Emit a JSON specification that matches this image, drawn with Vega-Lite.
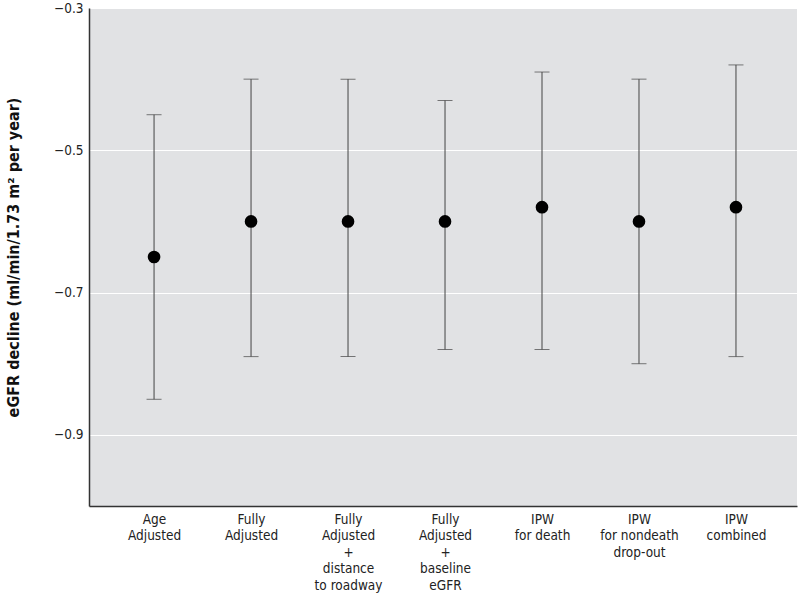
{
  "$schema": "https://vega.github.io/schema/vega-lite/v6.json",
  "width": 708,
  "height": 498,
  "autosize": {"type": "none"},
  "padding": {"left": 89, "top": 8, "right": 3, "bottom": 87},
  "background": "white",
  "config": {
    "view": {"fill": "#e1e2e4", "stroke": null},
    "font": "Liberation Sans Narrow, DejaVu Sans Condensed, sans-serif",
    "axis": {
      "labelFont": "Liberation Sans Narrow, DejaVu Sans Condensed, sans-serif",
      "titleFont": "Liberation Sans Narrow, DejaVu Sans Condensed, sans-serif",
      "labelColor": "#222",
      "titleColor": "#111",
      "domainColor": "#333",
      "domainWidth": 1.5,
      "ticks": false
    }
  },
  "data": {
    "values": [
      {"model": "Age Adjusted", "label": "Age|Adjusted", "est": -0.65, "lower": -0.85, "upper": -0.45},
      {"model": "Fully Adjusted", "label": "Fully|Adjusted", "est": -0.6, "lower": -0.79, "upper": -0.4},
      {"model": "Fully Adjusted + distance to roadway", "label": "Fully|Adjusted|+|distance|to roadway", "est": -0.6, "lower": -0.79, "upper": -0.4},
      {"model": "Fully Adjusted + baseline eGFR", "label": "Fully|Adjusted|+|baseline|eGFR", "est": -0.6, "lower": -0.78, "upper": -0.43},
      {"model": "IPW for death", "label": "IPW|for death", "est": -0.58, "lower": -0.78, "upper": -0.39},
      {"model": "IPW for nondeath drop-out", "label": "IPW|for nondeath|drop-out", "est": -0.6, "lower": -0.8, "upper": -0.4},
      {"model": "IPW combined", "label": "IPW|combined", "est": -0.58, "lower": -0.79, "upper": -0.38}
    ]
  },
  "encoding": {
    "x": {
      "field": "label",
      "type": "nominal",
      "sort": null,
      "scale": {"type": "point", "padding": 0.65, "align": 0.516},
      "axis": {
        "title": null,
        "labelAngle": 0,
        "labelExpr": "split(datum.label, '|')",
        "labelFontSize": 13.5,
        "labelLineHeight": 16.5,
        "labelPadding": 6,
        "grid": false,
        "domain": true
      }
    }
  },
  "layer": [
    {
      "mark": {"type": "rule", "color": "#444", "strokeWidth": 1},
      "encoding": {
        "y": {
          "field": "lower",
          "type": "quantitative",
          "scale": {"domain": [-1.0, -0.3], "nice": false},
          "axis": {
            "title": "eGFR decline (ml/min/1.73 m² per year)",
            "titleFontSize": 16,
            "titleFontWeight": "bold",
            "titlePadding": 32,
            "values": [-0.3, -0.5, -0.7, -0.9],
            "format": ".1f",
            "labelFontSize": 13.5,
            "labelPadding": 6,
            "grid": true,
            "gridColor": "white",
            "gridWidth": 1
          }
        },
        "y2": {"field": "upper"}
      }
    },
    {
      "mark": {"type": "tick", "orient": "horizontal", "color": "#444", "size": 15, "thickness": 1},
      "encoding": {"y": {"field": "lower", "type": "quantitative"}}
    },
    {
      "mark": {"type": "tick", "orient": "horizontal", "color": "#444", "size": 15, "thickness": 1},
      "encoding": {"y": {"field": "upper", "type": "quantitative"}}
    },
    {
      "mark": {"type": "circle", "color": "black", "size": 160, "opacity": 1},
      "encoding": {"y": {"field": "est", "type": "quantitative"}}
    }
  ]
}
